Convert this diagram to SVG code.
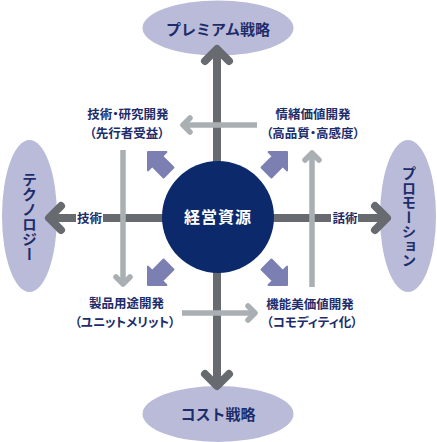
<svg xmlns="http://www.w3.org/2000/svg" width="437" height="442" viewBox="0 0 437 442">
<style>
.ell{fill:#babbd8}
.lbl{font-family:"Noto Sans CJK JP","Noto Sans",sans-serif;font-weight:bold;fill:#1d2d6b;text-anchor:middle}
.p{font-feature-settings:"palt" 1}
.dark{stroke:#676b6f;stroke-width:8;fill:none;stroke-linecap:round;stroke-linejoin:round}
.darkl{stroke:#676b6f;stroke-width:8;fill:none}
.light{stroke:#a9afb2;stroke-width:5.5;fill:none;stroke-linecap:round;stroke-linejoin:round}
.lightl{stroke:#a9afb2;stroke-width:5.5;fill:none}
.blk{fill:#7b7fb2;stroke:#7b7fb2;stroke-width:2;stroke-linejoin:round}
</style>
<defs>
<path id="blockArrow" d="M0,0 L13,13 L7,13 L7,29 L-7,29 L-7,13 L-13,13 Z"/>
</defs>
<rect width="437" height="442" fill="#ffffff"/>
<g id="node-premium">
<ellipse class="ell" cx="218" cy="28" rx="75.5" ry="27.5"/>
<text class="lbl" x="218" y="35" font-size="15">プレミアム戦略</text>
</g>
<g id="node-cost">
<ellipse class="ell" cx="218" cy="414" rx="75.5" ry="28"/>
<text class="lbl" x="218" y="420" font-size="15">コスト戦略</text>
</g>
<g id="node-technology">
<ellipse class="ell" cx="29.5" cy="216" rx="27.5" ry="76"/>
<text class="lbl" x="29.5" y="217" font-size="15" writing-mode="vertical-rl" style="writing-mode:vertical-rl">テクノロジー</text>
</g>
<g id="node-promotion">
<ellipse class="ell" cx="408" cy="216" rx="28" ry="76"/>
<text class="lbl" x="409" y="217" font-size="14.5" writing-mode="vertical-rl" style="writing-mode:vertical-rl">プロモーション</text>
</g>
<g id="connectors">
<line class="darkl" x1="217" y1="49" x2="217" y2="386"/>
<line class="darkl" x1="49" y1="218" x2="387" y2="218"/>
<polyline class="dark" points="205,61 217,49 229,61"/>
<polyline class="dark" points="205,374 217,386 229,374"/>
<polyline class="dark" points="61,206 49,218 61,230"/>
<polyline class="dark" points="375,206 387,218 375,230"/>
<rect x="76" y="208" width="27" height="20" fill="#ffffff"/>
<rect x="331" y="208" width="27" height="20" fill="#ffffff"/>
<text class="lbl" x="89.5" y="223" font-size="12.5">技術</text>
<text class="lbl" x="345" y="223" font-size="12.5">話術</text>
<line class="lightl" x1="123" y1="150" x2="123" y2="284"/>
<polyline class="light" points="116,277 123,284 130,277"/>
<line class="lightl" x1="312" y1="287" x2="312" y2="153"/>
<polyline class="light" points="305,160 312,153 319,160"/>
<line class="lightl" x1="257" y1="125" x2="183" y2="125"/>
<polyline class="light" points="190,118 183,125 190,132"/>
<line class="lightl" x1="182" y1="313" x2="255" y2="313"/>
<polyline class="light" points="248,306 255,313 248,320"/>
<use href="#blockArrow" class="blk" transform="translate(148,152) rotate(-45)"/>
<use href="#blockArrow" class="blk" transform="translate(287,152) rotate(45)"/>
<use href="#blockArrow" class="blk" transform="translate(148,285) rotate(-135)"/>
<use href="#blockArrow" class="blk" transform="translate(287,285) rotate(135)"/>
</g>
<g id="node-core">
<circle cx="218" cy="217" r="56" fill="#0c2a6b"/>
<text x="218" y="223" font-size="16" font-family="Noto Sans CJK JP, sans-serif" font-weight="bold" fill="#ffffff" text-anchor="middle" letter-spacing="1">経営資源</text>
</g>
<g id="node-rd">
<text class="lbl p" font-size="12.5"><tspan x="128" y="119">技術・研究開発</tspan><tspan x="127" y="137.5">（先行者受益）</tspan></text>
</g>
<g id="node-emotional">
<text class="lbl p" font-size="12.5"><tspan x="313" y="119">情緒価値開発</tspan><tspan x="313" y="137.5">（高品質・高感度）</tspan></text>
</g>
<g id="node-product">
<text class="lbl p" font-size="12.5"><tspan x="126.5" y="308">製品用途開発</tspan><tspan x="125" y="326.5">（ユニットメリット）</tspan></text>
</g>
<g id="node-functional">
<text class="lbl p" font-size="12.5"><tspan x="310" y="308.5">機能美価値開発</tspan><tspan x="312" y="327">（コモディティ化）</tspan></text>
</g>
</svg>
